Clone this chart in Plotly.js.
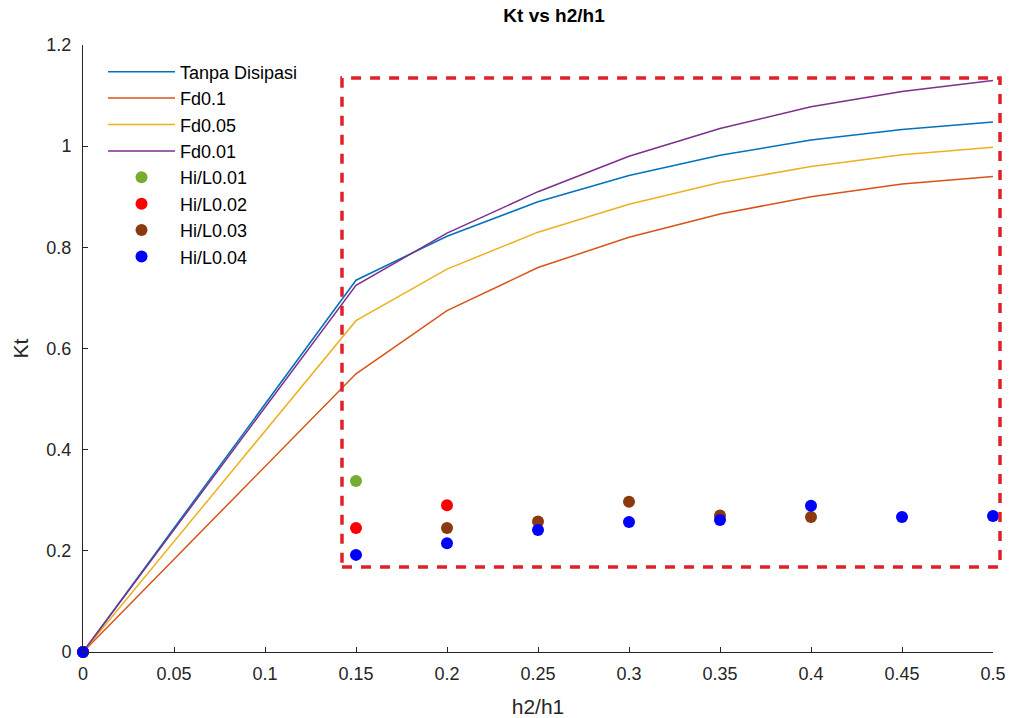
<!DOCTYPE html>
<html><head><meta charset="utf-8">
<script src="https://cdn.plot.ly/plotly-3.0.1.min.js"></script>
<style>html,body{margin:0;padding:0;background:#fff}#chart{width:1011px;height:718px}</style>
</head><body><div id="chart"></div>
<script>
// Line series (x positions shared)
const xLine = [0, 0.15, 0.2, 0.25, 0.3, 0.35, 0.4, 0.45, 0.5];
const tanpaDisipasi = [0, 0.735, 0.822, 0.890, 0.942, 0.982, 1.012, 1.033, 1.048];
const fd01  = [0, 0.550, 0.675, 0.760, 0.820, 0.866, 0.900, 0.925, 0.940];
const fd005 = [0, 0.655, 0.757, 0.830, 0.885, 0.928, 0.960, 0.983, 0.998];
const fd001 = [0, 0.725, 0.828, 0.910, 0.980, 1.035, 1.078, 1.108, 1.130];

// Scatter series
const hiL001x = [0, 0.15];
const hiL001y = [0, 0.338];
const hiL002x = [0, 0.15, 0.2];
const hiL002y = [0, 0.245, 0.290];
const hiL003x = [0, 0.2, 0.25, 0.3, 0.35, 0.4];
const hiL003y = [0, 0.245, 0.258, 0.297, 0.270, 0.267];
const hiL004x = [0, 0.15, 0.2, 0.25, 0.3, 0.35, 0.4, 0.45, 0.5];
const hiL004y = [0, 0.192, 0.215, 0.241, 0.257, 0.261, 0.289, 0.267, 0.269];

const xTicks = [0, 0.05, 0.1, 0.15, 0.2, 0.25, 0.3, 0.35, 0.4, 0.45, 0.5];
const yTicks = [0, 0.2, 0.4, 0.6, 0.8, 1, 1.2];

function line(x, y, name, color, g) {
  return {x, y, name, type: 'scatter', mode: 'lines', line: {color, width: 1.5}, legendgroup: g, cliponaxis: false};
}
function pts(x, y, name, color, g) {
  return {x, y, name, type: 'scatter', mode: 'markers', marker: {color, size: 12}, legendgroup: g, cliponaxis: false};
}

const data = [
  line(xLine, tanpaDisipasi, 'Tanpa Disipasi', '#0072BD', 'a'),
  line(xLine, fd01, 'Fd0.1', '#D95319', 'b'),
  line(xLine, fd005, 'Fd0.05', '#EDB120', 'c'),
  line(xLine, fd001, 'Fd0.01', '#7E2F8E', 'd'),
  pts(hiL001x, hiL001y, 'Hi/L0.01', '#77AC30', 'e'),
  pts(hiL002x, hiL002y, 'Hi/L0.02', '#FF0000', 'f'),
  pts(hiL003x, hiL003y, 'Hi/L0.03', '#8B3A0F', 'g'),
  pts(hiL004x, hiL004y, 'Hi/L0.04', '#0000FF', 'h')
];

const axisCommon = {
  showgrid: false, zeroline: false, showline: true, linecolor: '#262626', linewidth: 1,
  ticks: 'inside', ticklen: 5, tickcolor: '#262626',
  tickfont: {family: 'Liberation Sans, Arial, sans-serif', size: 18, color: '#262626'}
};

const layout = {
  width: 1011, height: 718,
  margin: {l: 83, r: 18, t: 45, b: 66},
  paper_bgcolor: '#fff', plot_bgcolor: '#fff',
  font: {family: 'Liberation Sans, Arial, sans-serif', color: '#262626'},
  title: {text: '<b>Kt vs h2/h1</b>', x: 0.548, xanchor: 'center', y: 0.978, yanchor: 'middle',
          font: {size: 19, color: '#000'}},
  xaxis: Object.assign({}, axisCommon, {
    range: [0, 0.5], tickvals: xTicks, ticktext: xTicks.map(String), ticklabelstandoff: 5,
    title: {text: 'h2/h1', font: {size: 21, color: '#262626'}, standoff: 17}
  }),
  yaxis: Object.assign({}, axisCommon, {
    range: [0, 1.2], tickvals: yTicks, ticktext: yTicks.map(String), ticklabelstandoff: 7,
    title: {text: 'Kt', font: {size: 21, color: '#262626'}, standoff: 12}
  }),
  showlegend: true,
  legend: {x: 0.022, y: 0.986, xanchor: 'left', yanchor: 'top', bgcolor: 'rgba(255,255,255,0)',
           font: {size: 18, color: '#000'}, tracegroupgap: 0, itemwidth: 67},
  shapes: [{
    type: 'rect', xref: 'paper', yref: 'paper',
    x0: 0.2846, x1: 1.0077, y0: 0.140, y1: 0.9457,
    line: {color: '#E0202A', width: 3.5, dash: '10px,9px'}
  }]
};

Plotly.newPlot('chart', data, layout, {displayModeBar: false, staticPlot: true});
</script></body></html>
